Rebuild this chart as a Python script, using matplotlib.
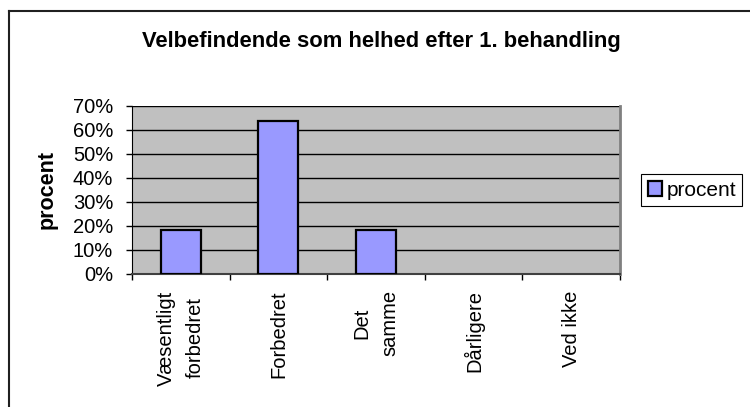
import matplotlib
matplotlib.use('Agg')
import matplotlib.pyplot as plt
from matplotlib.lines import Line2D

plt.rcParams['font.family'] = ['Liberation Sans', 'DejaVu Sans']

# data
categories = ['Væsentligt\nforbedret', 'Forbedret', 'Det\nsamme', 'Dårligere', 'Ved ikke']
procent = [18.2, 63.6, 18.2, 0, 0]

fig = plt.figure(figsize=(7.5, 4.07), dpi=100)
ax = fig.add_axes([0.176, 0.3276, 0.6507, 0.4128])

ax.set_facecolor('#C0C0C0')
x = range(len(categories))
bars = ax.bar(x, procent, width=0.41, color='#9999FF', edgecolor='black', linewidth=1.6,
              label='procent', zorder=3)
for b, v in zip(bars, procent):
    if v == 0:
        b.set_visible(False)

ax.set_ylim(0, 70)
ax.set_xlim(-0.5, len(categories) - 0.5)
ax.set_yticks(range(0, 71, 10))
ax.set_yticklabels(['%d%%' % v for v in range(0, 71, 10)], fontsize=14.5)
ax.yaxis.grid(True, color='black', linewidth=1, zorder=1)

# category labels between boundary ticks
ax.set_xticks([i - 0.5 for i in range(len(categories) + 1)])
ax.set_xticklabels([])
ax.tick_params(axis='x', direction='out', length=4, width=1)
ax.tick_params(axis='y', direction='out', length=4.5, width=1, pad=9)
for i, c in enumerate(categories):
    ax.annotate(c, xy=(i, 0), xycoords=('data', 'axes fraction'),
                xytext=(0, -12), textcoords='offset points',
                rotation=90, ha='center', va='top', multialignment='center',
                linespacing=1.6, fontsize=14.5)

ax.spines['top'].set_visible(False)
ax.spines['left'].set_color('black')
ax.spines['right'].set_color('#808080')
ax.spines['right'].set_linewidth(2)
ax.spines['bottom'].set_color('#404040')
ax.spines['bottom'].set_linewidth(1.5)

ax.set_ylabel('procent', fontsize=15.5, fontweight='bold')
ax.yaxis.set_label_coords(-0.152, 0.5)

fig.text(0.509, 0.897, 'Velbefindende som helhed efter 1. behandling',
         ha='center', va='center', fontsize=15.8, fontweight='bold')

leg = fig.legend(loc='center left', bbox_to_anchor=(0.855, 0.533), fontsize=15,
                 frameon=True, fancybox=False, edgecolor='black', framealpha=1,
                 handlelength=0.7, handleheight=0.7, handletextpad=0.2,
                 borderpad=0.3, borderaxespad=0)
leg.get_frame().set_linewidth(0.8)

# outer chart frame (top and left edges visible)
fy = 1 - 10.5 / 407
fx = 9 / 750
fig.add_artist(Line2D([fx, 1], [fy, fy], color='#202020', linewidth=1.5))
fig.add_artist(Line2D([fx, fx], [0, fy], color='#202020', linewidth=1.5))

plt.savefig('out.png', dpi=100)
